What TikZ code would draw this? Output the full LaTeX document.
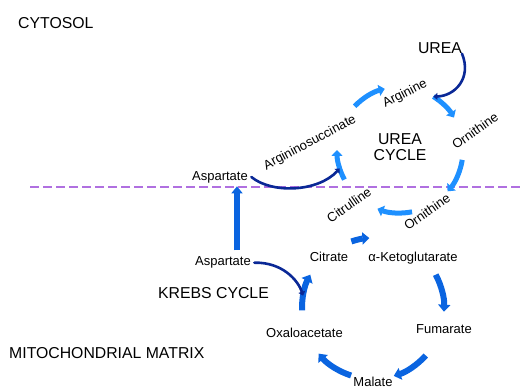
\documentclass[tikz,border=0pt]{standalone}
\usepackage{fontspec}
\setmainfont{Liberation Sans}
\usetikzlibrary{arrows.meta}
\definecolor{curea}{HTML}{1E90FF}
\definecolor{ckrebs}{HTML}{0A64E0}
\definecolor{clink}{HTML}{0A2896}
\definecolor{cmemb}{HTML}{B070E0}

\begin{document}
\begin{tikzpicture}[x=1pt,y=-1pt,font=\fontsize{13}{15}\selectfont,
  ucyc/.style={draw=curea,line width=5pt,-{Triangle[width=11pt,length=6pt]}},
  kcyc/.style={draw=ckrebs,line width=6pt,-{Triangle[width=12pt,length=7pt]}},
  link/.style={draw=clink,line width=2.6pt,line cap=round,-{Triangle[width=7pt,length=4pt]}},
  region/.style={font=\fontsize{15.8}{16.3}\selectfont,inner sep=0pt}]
\useasboundingbox (0,0) rectangle (523,387);
% compartments
\draw[cmemb,line width=1.1pt,dash pattern=on 9pt off 4pt] (30,187) -- (523,187);
\node[region,anchor=west] (cyto) at (18,23) {CYTOSOL};
\node[region,anchor=west] (matrix) at (9,353) {MITOCHONDRIAL MATRIX};
\node[region,anchor=west] (krebs) at (158,293) {KREBS CYCLE};
\node[region,align=center] (ureacyc) at (400,147) {UREA\\CYCLE};
\node[region] (urea) at (440,48) {UREA};
% urea cycle metabolites
\node (asp1) at (220,177) {Aspartate};
\node[rotate=28] (argsuc) at (310,143) {Argininosuccinate};
\node[rotate=27] (arg) at (405,94) {Arginine};
\node[rotate=35] (orn1) at (475,131) {Ornithine};
\node[rotate=35] (orn2) at (427,212) {Ornithine};
\node[rotate=35] (citr) at (349,205) {Citrulline};
% krebs cycle metabolites
\node (asp2) at (223,262.7) {Aspartate};
\node (cit) at (329,257) {Citrate};
\node (akg) at (413,258.3) {α-Ketoglutarate};
\node (fum) at (444,329.3) {Fumarate};
\node (mal) at (373,381.5) {Malate};
\node (oxa) at (304.5,333) {Oxaloacetate};
% cycle centres and junctions
\coordinate (ucc) at (400,150);
\coordinate (kcc) at (373,308);
\coordinate (j1) at ([shift={(163:63)}]ucc);
\coordinate (j2) at ([shift={(-58:63)}]ucc);
\coordinate (j3) at ([shift={(190:71)}]kcc);
% urea cycle arrows
\draw[ucyc] ([shift={(152:63)}]ucc) arc[start angle=152,end angle=180,radius=63];
\draw[ucyc] ([shift={(224:63)}]ucc) arc[start angle=224,end angle=256,radius=63];
\draw[ucyc] ([shift={(-58:63)}]ucc) arc[start angle=-58,end angle=-31,radius=63];
\draw[ucyc] ([shift={(9:63)}]ucc) arc[start angle=9,end angle=41,radius=63];
\draw[ucyc] ([shift={(79:63)}]ucc) arc[start angle=79,end angle=111,radius=63];
% krebs cycle arrows
\draw[kcyc] ([shift={(252:70)}]kcc) arc[start angle=252,end angle=267,radius=70];
\draw[kcyc] ([shift={(-28:71)}]kcc) arc[start angle=-28,end angle=3,radius=71];
\draw[kcyc] ([shift={(42:71)}]kcc) arc[start angle=42,end angle=73,radius=71];
\draw[kcyc] ([shift={(108:71)}]kcc) arc[start angle=108,end angle=140,radius=71];
\draw[kcyc] ([shift={(178:71)}]kcc) arc[start angle=178,end angle=208,radius=71];
% aspartate transport and side branches
\draw[kcyc,line width=5.5pt,-{Triangle[width=11pt,length=7pt]},shorten <=3pt]
  ([xshift=14pt]asp2.north) -- ([xshift=14pt]asp2.north |- asp1.south);
\draw[link] (asp1.east) .. controls (272,194) and (318,192) .. (j1);
\draw[link] ([xshift=22pt]urea.south) .. controls (472,78) and (455,96) .. (j2);
\draw[link] (asp2.east) .. controls (282,262) and (298,280) .. (j3);
\end{tikzpicture}
\end{document}
